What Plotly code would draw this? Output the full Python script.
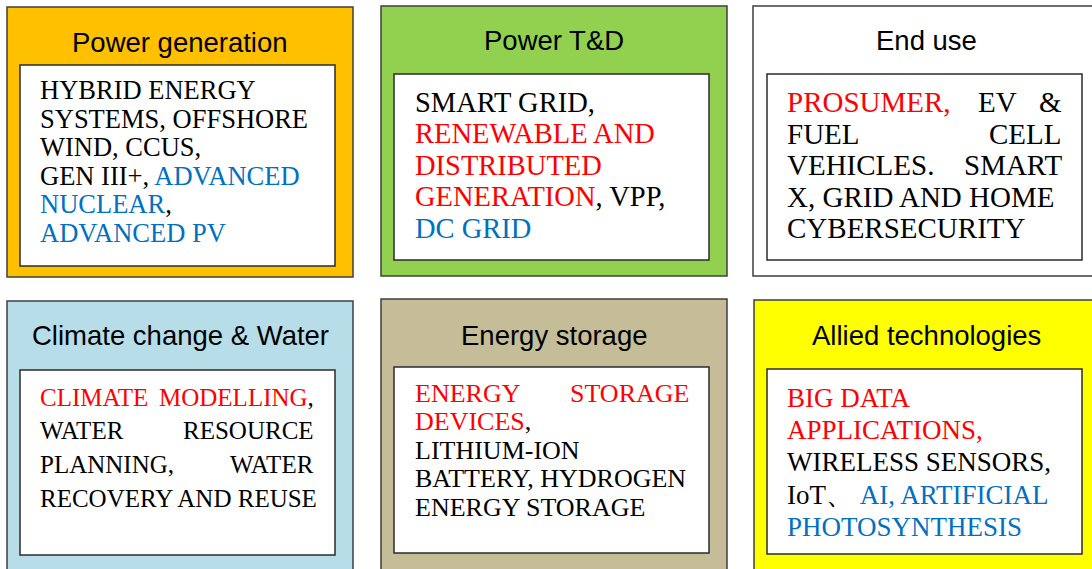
import plotly.graph_objects as go

W, H = 1092, 569

# ---------------- content ----------------
TITLES = ["Power generation", "Power T&D", "End use",
          "Climate change & Water", "Energy storage", "Allied technologies"]
FILLS = ["#FFC000", "#92D050", "#FFFFFF", "#B7DDE8", "#C4BD97", "#FFFF00"]

K, R, B = "#000000", "#FF0000", "#0070C0"

# each line = list of words (more than one word => justified line)
# each word = list of (text, colour) segments
PG_LINES = [
    [[("HYBRID ENERGY", K)]],
    [[("SYSTEMS, OFFSHORE", K)]],
    [[("WIND, CCUS,", K)]],
    [[("GEN III+, ", K), ("ADVANCED", B)]],
    [[("NUCLEAR", B), (",", K)]],
    [[("ADVANCED PV", B)]],
]
TD_LINES = [
    [[("SMART GRID,", K)]],
    [[("RENEWABLE AND", R)]],
    [[("DISTRIBUTED", R)]],
    [[("GENERATION", R), (", VPP,", K)]],
    [[("DC GRID", B)]],
]
EU_LINES = [
    [[("PROSUMER,", R)], [("EV", K)], [("&", K)]],
    [[("FUEL", K)], [("CELL", K)]],
    [[("VEHICLES.", K)], [("SMART", K)]],
    [[("X, GRID AND HOME", K)]],
    [[("CYBERSECURITY", K)]],
]
CW_LINES = [
    [[("CLIMATE", R)], [("MODELLING", R), (",", K)]],
    [[("WATER", K)], [("RESOURCE", K)]],
    [[("PLANNING,", K)], [("WATER", K)]],
    [[("RECOVERY AND REUSE", K)]],
]
ES_LINES = [
    [[("ENERGY", R)], [("STORAGE", R)]],
    [[("DEVICES", R), (",", K)]],
    [[("LITHIUM-ION", K)]],
    [[("BATTERY, HYDROGEN", K)]],
    [[("ENERGY STORAGE", K)]],
]
AT_LINES = [
    [[("BIG DATA", R)]],
    [[("APPLICATIONS,", R)]],
    [[("WIRELESS SENSORS,", K)]],
    [[("IoT、 ", K), ("AI, ARTIFICIAL", B)]],
    [[("PHOTOSYNTHESIS", B)]],
]
BOX_LINES = [PG_LINES, TD_LINES, EU_LINES, CW_LINES, ES_LINES, AT_LINES]

# ---------------- layout (pixel geometry) ----------------
GEOM = [
    dict(outer=(7, 7, 353, 277), inner=(20, 65, 335, 266), ty=42, L=38, R=316, y0=90, dy=28.6, fs=26.5),
    dict(outer=(381, 6, 727, 276), inner=(394, 74, 709, 260), ty=40, L=413, R=691, y0=102, dy=31.5, fs=28.5),
    dict(outer=(753, 6, 1100, 276), inner=(767, 74, 1082, 260), ty=40, L=785, R=1064, y0=102, dy=31.5, fs=29),
    dict(outer=(7, 301, 353, 590), inner=(20, 370, 335, 555), ty=335, L=38, R=316, y0=397, dy=33.7, fs=25),
    dict(outer=(381, 299, 727, 590), inner=(394, 367, 709, 553), ty=335, L=413, R=691, y0=393, dy=28.5, fs=26),
    dict(outer=(754, 300, 1100, 590), inner=(767, 369, 1082, 554), ty=335, L=785, R=1064, y0=398, dy=32.2, fs=27),
]

SERIF = "Liberation Serif, Times New Roman, serif"
SANS = "Liberation Sans, Arial, sans-serif"

# approximate Times advance widths (em) used only to distribute justified words
TW = {c: .722 for c in "ADGHKNOQUVXY"}
TW.update({c: .667 for c in "BCR"})
TW.update({c: .611 for c in "ELTZ"})
TW.update({c: .556 for c in "FPS"})
TW.update({"I": .333, "J": .389, "M": .889, "W": .944, ",": .25, ".": .25,
           " ": .25, "&": .778, "-": .333})


def word_width(word, fs):
    return sum(TW.get(ch, .6) for seg, _ in word for ch in seg) * fs


def rich(word):
    return "".join(f"<span style='color:{c}'>{t}</span>" for t, c in word)


fig = go.Figure()
shapes, annos = [], []

for title, fill, lines, g in zip(TITLES, FILLS, BOX_LINES, GEOM):
    x0, y0, x1, y1 = g["outer"]
    shapes.append(dict(type="rect", xref="x", yref="y", x0=x0, y0=y0, x1=x1, y1=y1,
                       fillcolor=fill, line=dict(color="#3F3F3F", width=1.5)))
    ix0, iy0, ix1, iy1 = g["inner"]
    shapes.append(dict(type="rect", xref="x", yref="y", x0=ix0, y0=iy0, x1=ix1, y1=iy1,
                       fillcolor="#FFFFFF", line=dict(color="#2B2B2B", width=1.5)))
    annos.append(dict(x=(x0 + min(x1, 1099)) / 2, y=g["ty"], xref="x", yref="y", text=title,
                      showarrow=False, xanchor="center", yanchor="middle",
                      font=dict(family=SANS, size=27.5, color="#000000")))
    for i, line in enumerate(lines):
        yy = g["y0"] + i * g["dy"]
        font = dict(family=SERIF, size=g["fs"], color="#000000")
        if len(line) == 1:
            annos.append(dict(x=g["L"], y=yy, xref="x", yref="y", text=rich(line[0]),
                              showarrow=False, xanchor="left", yanchor="middle", font=font))
            continue
        widths = [word_width(w, g["fs"]) for w in line]
        gap = (g["R"] - g["L"] - sum(widths)) / (len(line) - 1)
        xpos = g["L"]
        for j, w in enumerate(line):
            if j == len(line) - 1:
                annos.append(dict(x=g["R"], y=yy, xref="x", yref="y", text=rich(w),
                                  showarrow=False, xanchor="right", yanchor="middle", font=font))
            else:
                annos.append(dict(x=xpos, y=yy, xref="x", yref="y", text=rich(w),
                                  showarrow=False, xanchor="left", yanchor="middle", font=font))
            xpos += widths[j] + gap

fig.update_layout(
    width=W, height=H, margin=dict(l=0, r=0, t=0, b=0),
    paper_bgcolor="#FFFFFF", plot_bgcolor="#FFFFFF",
    xaxis=dict(range=[0, W], visible=False, fixedrange=True),
    yaxis=dict(range=[H, 0], visible=False, fixedrange=True),
    shapes=shapes, annotations=annos, showlegend=False,
)
fig.write_html("out.html", config=dict(displayModeBar=False),
               post_script="document.body.style.margin='0';document.body.style.overflow='hidden';")
